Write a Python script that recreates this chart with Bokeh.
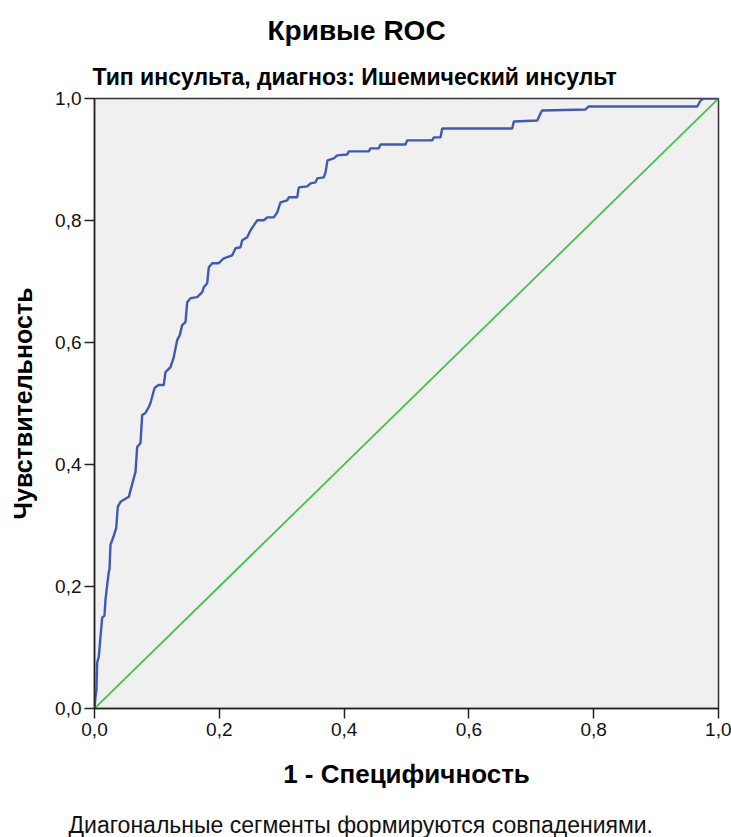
from bokeh.plotting import figure
from bokeh.models import Range1d, FixedTicker, CustomJSTickFormatter, Title, LinearAxis
from bokeh.embed import file_html
from bokeh.resources import INLINE

# ROC curve (1 - specificity, sensitivity)
fpr = [0.0, 0.0016, 0.0032, 0.0043, 0.0069, 0.0096, 0.0123, 0.016, 0.0176, 0.0200,
       0.0229, 0.024, 0.0256, 0.0304, 0.0348, 0.0373, 0.0417, 0.055, 0.0609, 0.0657,
       0.0684, 0.0737, 0.0764, 0.0817, 0.087, 0.0897, 0.0962, 0.1026, 0.111, 0.1138,
       0.1218, 0.127, 0.1325, 0.1367, 0.1405, 0.1458, 0.1486, 0.1538, 0.1646, 0.1726,
       0.1752, 0.1806, 0.1832, 0.1886, 0.1992, 0.2072, 0.2207, 0.226, 0.234, 0.2367,
       0.2447, 0.25, 0.2553, 0.2607, 0.2713, 0.2767, 0.2873, 0.2928, 0.2981, 0.3088,
       0.3114, 0.3248, 0.3274, 0.3409, 0.3462, 0.3542, 0.3569, 0.3675, 0.3702, 0.3734,
       0.3835, 0.3889, 0.405, 0.4075, 0.4396, 0.4423, 0.4556, 0.4583, 0.4984, 0.5011,
       0.5412, 0.5438, 0.5545, 0.5572, 0.6694, 0.672, 0.7095, 0.7147, 0.7175, 0.7869,
       0.7921, 0.9659, 0.9712, 0.9765, 1.0]
tpr = [0.0, 0.0196, 0.0311, 0.0753, 0.0851, 0.1178, 0.1489, 0.1522, 0.1784, 0.1997,
       0.2242, 0.2275, 0.2684, 0.2815, 0.2962, 0.3306, 0.3388, 0.347, 0.3699, 0.3879,
       0.4288, 0.4354, 0.4812, 0.4845, 0.4943, 0.5008, 0.5254, 0.5303, 0.5303, 0.5516,
       0.5597, 0.5761, 0.6039, 0.6121, 0.6285, 0.6334, 0.6661, 0.6727, 0.6743, 0.6825,
       0.6907, 0.6972, 0.7234, 0.73, 0.73, 0.7381, 0.743, 0.7545, 0.7561, 0.7676,
       0.7725, 0.7839, 0.7921, 0.8003, 0.8003, 0.8052, 0.8052, 0.8134, 0.8298, 0.8331,
       0.838, 0.838, 0.8543, 0.856, 0.8609, 0.8625, 0.869, 0.8707, 0.8789, 0.8985,
       0.9018, 0.9067, 0.9083, 0.9133, 0.9133, 0.9182, 0.9182, 0.9247, 0.9247, 0.9313,
       0.9313, 0.9362, 0.9362, 0.9509, 0.9509, 0.9624, 0.964, 0.9755, 0.9804, 0.982,
       0.9869, 0.9869, 0.9967, 1.0, 1.0]

# reference (chance) diagonal
ref_x = [0.0, 1.0]
ref_y = [0.0, 1.0]

tick_values = [0.0, 0.2, 0.4, 0.6, 0.8, 1.0]
spacer_tick = [0.5]

title_text = "Кривые ROC"
subtitle_text = "Тип инсульта, диагноз: Ишемический инсульт"
x_label = "1 - Специфичность"
y_label = "Чувствительность"
footnote_text = "Диагональные сегменты формируются совпадениями."

FONT = "Liberation Sans"

p = figure(width=731, height=837, x_range=Range1d(0, 1), y_range=Range1d(0, 1),
           output_backend="svg", toolbar_location=None, title=None,
           min_border_left=94, min_border_right=13, min_border_top=98, min_border_bottom=128)

p.background_fill_color = "#F0F0F0"
p.border_fill_color = "white"
p.outline_line_color = "#333333"
p.outline_line_width = 1.5
p.grid.visible = False

for ax in (p.xaxis[0], p.yaxis[0]):
    ax.ticker = FixedTicker(ticks=tick_values)
    ax.formatter = CustomJSTickFormatter(code="return tick.toFixed(1).replace('.', ',');")
    ax.major_tick_in = 0
    ax.major_tick_out = 10
    ax.minor_tick_line_color = None
    ax.axis_line_color = "#222222"
    ax.axis_line_width = 1.5
    ax.major_tick_line_color = "#222222"
    ax.major_tick_line_width = 1.5
    ax.major_label_text_font = FONT
    ax.major_label_text_font_size = "19px"
    ax.major_label_text_color = "#111111"
    ax.axis_label_text_font = FONT
    ax.axis_label_text_font_style = "bold"
    ax.axis_label_text_color = "#000000"

p.xaxis[0].axis_label = x_label
p.yaxis[0].axis_label = y_label
p.xaxis[0].axis_label_text_font_size = "26px"
p.yaxis[0].axis_label_text_font_size = "25px"
p.xaxis[0].major_label_standoff = 4
p.yaxis[0].major_label_standoff = 3
p.xaxis[0].axis_label_standoff = 20
p.yaxis[0].axis_label_standoff = 15

p.line(ref_x, ref_y, line_color="#46C14A", line_width=1.8)
p.line(fpr, tpr, line_color="#3D5AB8", line_width=2.4)

# subtitle first (closest to frame), then main title above it
p.add_layout(Title(text=subtitle_text, align="left", offset=-2, standoff=18,
                   text_font=FONT, text_font_size="23px", text_font_style="bold",
                   text_color="#000000"), "above")
p.add_layout(Title(text=title_text, align="left", offset=173, standoff=14,
                   text_font=FONT, text_font_size="28px", text_font_style="bold",
                   text_color="#000000"), "above")

# invisible axis (white tick, empty label) used only as vertical spacing before the footnote
spacer = LinearAxis(ticker=FixedTicker(ticks=spacer_tick), major_tick_out=18, major_tick_in=0,
                    major_label_standoff=0, axis_line_color=None,
                    major_tick_line_color="white", minor_tick_line_color=None,
                    formatter=CustomJSTickFormatter(code="return '';"),
                    major_label_text_font_size="1px")
p.add_layout(spacer, "below")
p.add_layout(Title(text=footnote_text, align="left", offset=-26, standoff=0,
                   text_font=FONT, text_font_size="23px", text_font_style="normal",
                   text_color="#111111"), "below")

open("out.html", "w").write(file_html(p, INLINE))
